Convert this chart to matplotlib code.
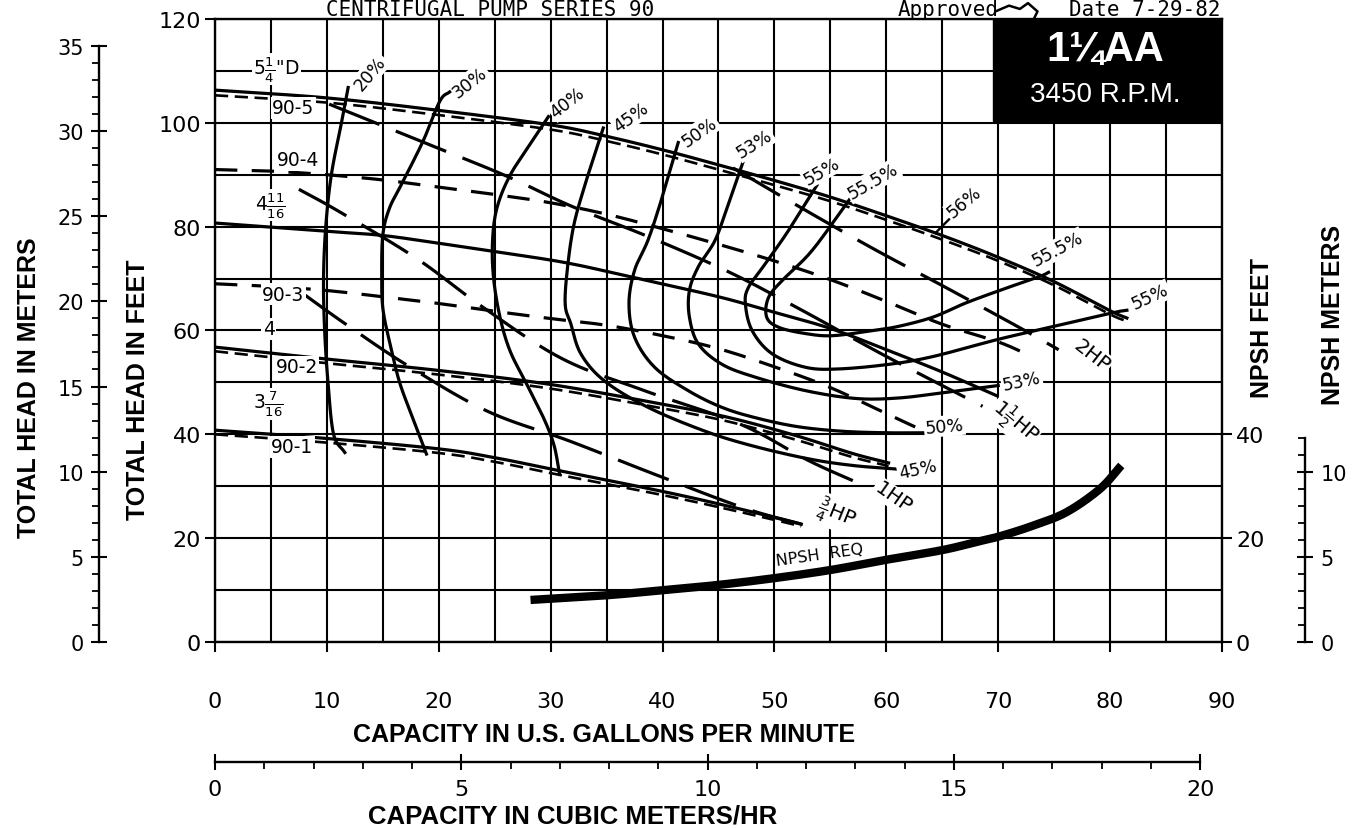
import numpy as np
import matplotlib.pyplot as plt
from matplotlib.patches import Rectangle
from matplotlib.ticker import FixedLocator, MultipleLocator
from matplotlib.lines import Line2D

plt.rcParams['font.family'] = ['DejaVu Sans']
plt.rcParams['mathtext.fontset'] = 'dejavusans'

FT_PER_M = 3.2808
GPM_PER_M3H = 4.4029

# head-capacity curves (GPM, ft); solid = impeller dia., dashed = 90-x model
q_525 = [0, 10, 20, 30, 35, 40, 45, 50, 55, 60, 65, 70, 75, 80, 81.5]
h_525 = [106.3, 104.8, 102.4, 99.6, 97.4, 94.8, 91.9, 88.9, 85.7, 82.1, 78.3, 74.1, 69.4, 63.8, 62.4]
h_905 = [105.3, 103.9, 101.5, 98.7, 96.5, 93.9, 91.0, 88.0, 84.9, 81.3, 77.5, 73.4, 68.7, 63.1, 61.8]

q_904 = [0, 5, 10, 15, 20, 25, 30, 35, 40, 45, 50, 55, 60, 65, 70, 72.8]
h_904 = [91.0, 90.7, 90.0, 89.0, 87.6, 86.2, 84.6, 82.4, 79.6, 76.6, 73.4, 69.8, 65.6, 61.2, 57.8, 55.2]

q_4116 = [0, 10, 15, 20, 25, 31.5, 37.8, 45, 50, 55, 60, 65, 69.8]
h_4116 = [80.7, 79.1, 78.3, 76.8, 75.2, 73.0, 70.0, 66.5, 63.5, 60.4, 56.3, 52.0, 47.5]

q_903 = [0, 5, 10, 15, 20, 25, 30, 35, 40, 45, 50, 55, 60, 63.5]
h_903 = [69.0, 68.5, 67.7, 66.5, 65.2, 63.7, 62.3, 61.0, 59.0, 56.5, 53.0, 49.0, 44.0, 40.5]

q_4 = [0, 10, 20, 30, 40, 46, 52, 57, 60.2]
h_4 = [56.8, 54.5, 52.3, 49.6, 45.8, 43.2, 39.7, 36.3, 34.5]
h_902 = [56.0, 53.7, 51.5, 48.8, 45.0, 42.4, 38.9, 35.6, 33.9]

q_3716 = [0, 10, 20, 25, 31, 40, 46, 52.4]
h_3716 = [40.8, 39.2, 37.2, 35.5, 32.9, 29.0, 26.1, 22.7]
h_901 = [40.0, 38.4, 36.4, 34.7, 32.1, 28.3, 25.5, 22.3]

# efficiency curves (GPM, ft)
eff_curves = {
    '20': ([11.9, 11.3, 10.4, 9.9, 9.7, 9.8, 10.1, 10.6, 11.6],
           [106.8, 100, 90, 80, 70, 60, 50, 40, 36.5]),
    '30': ([21.0, 20.1, 18.6, 16.8, 15.6, 15.0, 14.9, 15.0, 15.6, 16.5, 17.7, 18.9],
           [106.0, 104.2, 96.5, 88.7, 83.6, 78.4, 70.7, 64.3, 57.8, 50, 43, 36.2]),
    '40': ([29.8, 28.5, 26.4, 25.2, 24.8, 24.9, 25.5, 26.4, 27.9, 29.4, 30.3, 30.8],
           [101.2, 97.0, 90, 83.6, 77.1, 70, 62.3, 55.9, 49.5, 43, 37.9, 32.3]),
    '45': ([34.7, 33.3, 32.1, 31.5, 31.3, 31.8, 32.7, 34.8, 38.7, 43.8, 48, 53, 57, 61],
           [99.0, 89.7, 80.6, 72, 65, 61.3, 55.5, 50.3, 45.2, 40.6, 37.8, 35.3, 34.0, 33.3]),
    '50': ([41.4, 39.9, 38.7, 37.5, 37.0, 37.5, 39.3, 42.3, 45.3, 48.3, 52, 56, 60, 63.8],
           [96.2, 85.2, 77.4, 71.6, 65.2, 58.7, 52.9, 48.4, 45.2, 43.2, 41.5, 40.6, 40.3, 40.3]),
    '53': ([47.2, 45.9, 44.7, 43.2, 42.4, 42.4, 43.2, 45.3, 48.3, 52.8, 57.3, 61.1, 65, 70],
           [92.5, 84.5, 77.4, 72.3, 67.7, 62.6, 57.4, 53.5, 51, 48.4, 46.9, 47.0, 48.0, 49.4]),
    '55': ([53.8, 51.3, 49.2, 47.7, 47.4, 48.0, 49.8, 52.8, 55.8, 60.3, 64.2, 70, 75, 80.2, 81.5],
           [88.0, 79.4, 72.9, 68.4, 65.2, 60, 55.5, 52.9, 52.6, 53.5, 55.0, 58.3, 60.8, 63.4, 63.9]),
    '55.5': ([56.8, 53.4, 51.0, 49.5, 49.3, 50.4, 52.8, 55.2, 58.8, 61.1, 64.2, 67.1, 70.5, 73.7, 74.5],
             [85.5, 75.5, 70.3, 66.5, 62.6, 60.6, 59.4, 59.0, 60.0, 60.8, 62.6, 65.3, 68.0, 70.4, 71.2]),
}
peak_tick_q = [64.4, 65.6]
peak_tick_h = [78.8, 81.4]

# brake horsepower lines (GPM, ft)
hp_lines = {
    '2': ([46.3, 52.5, 58.8, 65.3, 71.7, 75.4], [91.3, 83.5, 75.8, 68.3, 60.8, 56.3]),
    '1.5': ([10.2, 19.5, 26.1, 31.8, 38.7, 45.9, 52.2, 60.0, 68.6],
            [103.6, 95.5, 89.7, 84.0, 78.1, 71.3, 64.2, 55.0, 45.4]),
    '1': ([7.5, 11.1, 18.0, 24.0, 31.0, 38.4, 47.0, 53.0, 57.5],
          [87.2, 82.9, 73.9, 64.4, 54.6, 48.4, 41.9, 35.0, 30.6]),
    '0.75': ([7.8, 11.7, 17.1, 24.3, 31.7, 39.3, 47.3, 52.4],
             [67.2, 61.2, 53.4, 44.5, 38.7, 32.3, 25.8, 22.7]),
}

# NPSH required (GPM, ft)
q_npsh = [28.2, 35, 40.1, 45, 50, 55.1, 59.9, 65, 68.3, 70.2, 73.1, 76.1, 79.1, 81.0]
h_npsh = [8.1, 9.0, 10.0, 11.0, 12.3, 13.9, 15.8, 17.7, 19.4, 20.4, 22.4, 25.0, 29.5, 34.0]

dia_labels = [('5$\\frac{1}{4}$"D', 5.5, 110.4), ('90-5', 7.0, 102.9), ('90-4', 7.4, 92.9),
              ('4$\\frac{11}{16}$', 4.9, 84.2), ('90-3', 6.1, 67.0), ('4', 4.8, 60.3),
              ('90-2', 7.3, 53.0), ('3$\\frac{7}{16}$', 4.8, 45.9), ('90-1', 6.9, 37.6)]

eff_labels = [('20%', 13.9, 109.6, 50), ('30%', 22.8, 107.9, 38), ('40%', 31.5, 104.0, 38),
              ('45%', 37.2, 101.2, 35), ('50%', 43.3, 98.3, 35), ('53%', 48.2, 96.0, 32),
              ('55%', 54.2, 90.8, 30), ('55.5%', 58.8, 88.8, 30), ('56%', 67.0, 84.8, 40),
              ('55.5%', 75.3, 75.7, 28), ('55%', 83.6, 66.5, 25), ('53%', 72.1, 50.3, 12),
              ('50%', 65.2, 41.6, 5), ('45%', 62.8, 33.3, 12)]

hp_labels = [('2HP', 78.4, 55.3, -38), ('1$\\frac{1}{2}$HP', 71.5, 42.5, -40),
             ('1HP', 60.6, 27.9, -35), ('$\\frac{3}{4}$HP', 55.5, 24.7, -22)]


def smooth(x, y, n=14):
    # Catmull-Rom path through the read points, for a drafted look
    p = np.column_stack([x, y]).astype(float)
    p = np.vstack([2 * p[0] - p[1], p, 2 * p[-1] - p[-2]])
    t = np.linspace(0, 1, n, endpoint=False)[:, None]
    segs = []
    for i in range(1, len(p) - 2):
        p0, p1, p2, p3 = p[i - 1], p[i], p[i + 1], p[i + 2]
        segs.append(0.5 * (2 * p1 + (-p0 + p2) * t + (2 * p0 - 5 * p1 + 4 * p2 - p3) * t ** 2
                           + (-p0 + 3 * p1 - 3 * p2 + p3) * t ** 3))
    segs.append(p[-2][None])
    s = np.vstack(segs)
    return s[:, 0], s[:, 1]


fig = plt.figure(figsize=(13.58, 8.29), dpi=100)
pos = [0.15832, 0.22437, 0.74153, 0.75151]
ax = fig.add_axes(pos)
ax.set_xlim(0, 90)
ax.set_ylim(0, 120)

ax.set_xticks(range(0, 91, 10))
ax.xaxis.set_minor_locator(MultipleLocator(5))
ax.set_yticks(range(0, 121, 20))
ax.yaxis.set_minor_locator(MultipleLocator(10))
ax.grid(which='both', color='black', lw=1.5)
ax.set_axisbelow(True)
ax.tick_params(which='minor', length=0)
ax.tick_params(axis='x', which='major', direction='out', length=7, width=1.5, pad=28, labelsize=16)
ax.tick_params(axis='y', which='major', direction='out', length=7, width=1.5, pad=3, labelsize=16)
for s in ax.spines.values():
    s.set_linewidth(1.7)

BLK = 'black'
LW = 2.3
# head curves
ax.plot(*smooth(q_525, h_525), color=BLK, lw=LW, zorder=4)
ax.plot(*smooth(q_525, h_905), color=BLK, lw=1.9, dashes=(5, 2.5), zorder=4)
ax.plot(*smooth(q_904, h_904), color=BLK, lw=LW, dashes=(7, 4.5), zorder=4)
ax.plot(*smooth(q_4116, h_4116), color=BLK, lw=LW, zorder=4)
ax.plot(*smooth(q_903, h_903), color=BLK, lw=LW, dashes=(7, 4.5), zorder=4)
ax.plot(*smooth(q_4, h_4), color=BLK, lw=LW, zorder=4)
ax.plot(*smooth(q_4, h_902), color=BLK, lw=1.9, dashes=(5, 2.5), zorder=4)
ax.plot(*smooth(q_3716, h_3716), color=BLK, lw=LW, zorder=4)
ax.plot(*smooth(q_3716, h_901), color=BLK, lw=1.9, dashes=(5, 2.5), zorder=4)

# efficiency curves
for q, h in eff_curves.values():
    ax.plot(*smooth(q, h), color=BLK, lw=LW, zorder=4)
ax.plot(peak_tick_q, peak_tick_h, color=BLK, lw=1.7, zorder=4)

# horsepower lines
for q, h in hp_lines.values():
    ax.plot(*smooth(q, h), color=BLK, lw=LW, dashes=(17, 5.5), zorder=4)

# NPSH required
ax.plot(*smooth(q_npsh, h_npsh), color=BLK, lw=6, solid_capstyle='butt', zorder=4)
ax.text(54.0, 16.9, 'NPSH  REQ', fontsize=11.5, rotation=8, ha='center', va='center', zorder=6)

box = dict(facecolor='white', edgecolor='none', pad=1.0)
for txt, x, y in dia_labels:
    ax.text(x, y, txt, fontsize=13.5, ha='center', va='center', bbox=box, zorder=6)
for txt, x, y, r in eff_labels:
    ax.text(x, y, txt, fontsize=12.5, rotation=r, ha='center', va='center',
            rotation_mode='anchor', bbox=box, zorder=6)
for txt, x, y, r in hp_labels:
    ax.text(x, y, txt, fontsize=14.5, rotation=r, ha='center', va='center',
            rotation_mode='anchor', bbox=box, zorder=6)

# model plate
ax.add_patch(Rectangle((69.5, 100.3), 20.5, 19.7, facecolor='black', edgecolor='black', zorder=7))
ax.text(79.6, 114.2, '1\u00bcAA', color='white', fontsize=30, fontweight='bold',
        family='Liberation Sans', ha='center', va='center', zorder=8)
ax.text(79.6, 105.6, '3450 R.P.M.', color='white', fontsize=20,
        family='Liberation Sans', ha='center', va='center', zorder=8)

# NPSH feet scale on the right edge
axr = ax.twinx()
axr.set_ylim(0, 120)
axr.set_yticks([0, 20, 40])
axr.tick_params(axis='y', direction='out', length=7, width=1.5, pad=3, labelsize=16)
for s in axr.spines.values():
    s.set_visible(False)

# total head in meters (left)
axm = fig.add_axes([0.0729, pos[1], 0.0001, pos[3]])
axm.set_ylim(0, 120 / FT_PER_M)
axm.patch.set_visible(False)
for s in ['top', 'right', 'bottom']:
    axm.spines[s].set_visible(False)
axm.spines['left'].set_bounds(0, 35)
axm.spines['left'].set_linewidth(1.7)
axm.set_xticks([])
axm.yaxis.set_major_locator(FixedLocator(range(0, 36, 5)))
axm.yaxis.set_minor_locator(FixedLocator(range(0, 36)))
axm.tick_params(axis='y', which='major', direction='inout', length=12, width=1.5, pad=5, labelsize=15)
axm.tick_params(axis='y', which='minor', direction='out', length=5, width=1.3)

# NPSH meters (right)
axn = fig.add_axes([0.961, pos[1], 0.0001, pos[3]])
axn.set_ylim(0, 120 / FT_PER_M)
axn.patch.set_visible(False)
for s in ['top', 'left', 'bottom']:
    axn.spines[s].set_visible(False)
axn.spines['right'].set_bounds(0, 12)
axn.spines['right'].set_linewidth(1.7)
axn.set_xticks([])
axn.yaxis.tick_right()
axn.yaxis.set_major_locator(FixedLocator([0, 5, 10]))
axn.yaxis.set_minor_locator(FixedLocator(range(0, 13)))
axn.tick_params(axis='y', which='major', direction='inout', length=12, width=1.5, pad=5, labelsize=15)
axn.tick_params(axis='y', which='minor', direction='in', length=5, width=1.3)

# capacity in cubic meters per hour (bottom)
axc = fig.add_axes([pos[0], 0.0796, pos[2], 0.0001])
axc.set_xlim(0, 90 / GPM_PER_M3H)
axc.patch.set_visible(False)
for s in ['top', 'left', 'right']:
    axc.spines[s].set_visible(False)
axc.spines['bottom'].set_bounds(0, 20)
axc.spines['bottom'].set_linewidth(1.7)
axc.set_yticks([])
axc.xaxis.set_major_locator(FixedLocator([0, 5, 10, 15, 20]))
axc.xaxis.set_minor_locator(FixedLocator(range(0, 21)))
axc.tick_params(axis='x', which='major', direction='inout', length=12, width=1.5, pad=6, labelsize=16)
axc.tick_params(axis='x', which='minor', direction='out', length=5, width=1.3)

# axis titles
bold = dict(family='Liberation Sans', fontweight='bold')
fig.text(0.4448, 0.1134, 'CAPACITY IN U.S. GALLONS PER MINUTE', fontsize=18, ha='center', va='center', **bold)
fig.text(0.4215, 0.0150, 'CAPACITY IN CUBIC METERS/HR', fontsize=18.5, ha='center', va='center', **bold)
fig.text(0.021, 0.532, 'TOTAL HEAD IN METERS', fontsize=18, rotation=90, ha='center', va='center', **bold)
fig.text(0.1015, 0.530, 'TOTAL HEAD IN FEET', fontsize=18, rotation=90, ha='center', va='center', **bold)
fig.text(0.9293, 0.6043, 'NPSH FEET', fontsize=18, rotation=90, ha='center', va='center', **bold)
fig.text(0.9816, 0.620, 'NPSH METERS', fontsize=18, rotation=90, ha='center', va='center', **bold)

# header line
mono = dict(family='DejaVu Sans Mono', fontsize=15)
fig.text(0.361, 0.981, 'CENTRIFUGAL PUMP SERIES 90', ha='center', va='baseline', **mono)
fig.text(0.661, 0.981, 'Approved', ha='left', va='baseline', **mono)
fig.text(0.899, 0.981, 'Date 7-29-82', ha='right', va='baseline', **mono)
fig.add_artist(Line2D([0.733, 0.743, 0.751, 0.757, 0.764, 0.761],
                      [0.985, 0.992, 0.988, 0.995, 0.985, 0.975],
                      transform=fig.transFigure, color='black', lw=1.8))

fig.savefig('out.png', dpi=100)
